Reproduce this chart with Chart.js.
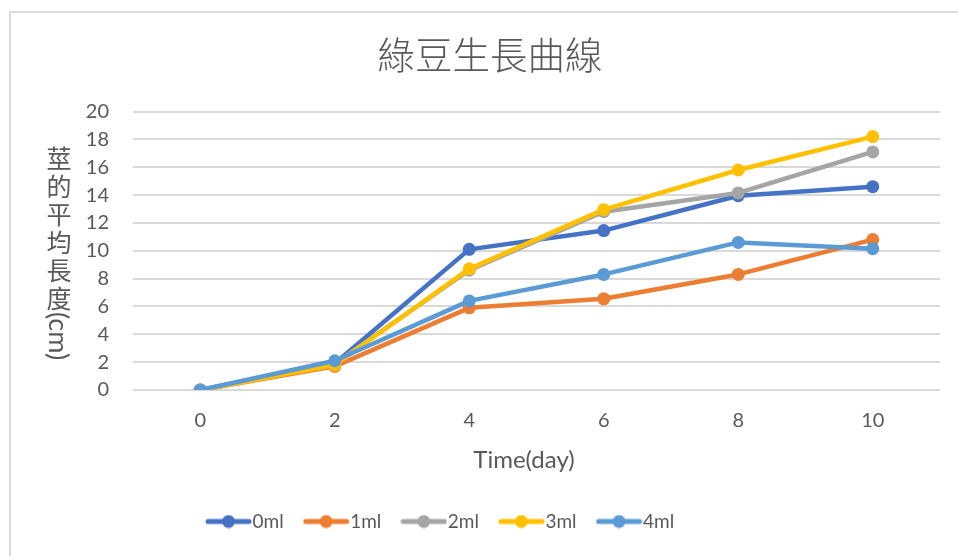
<!DOCTYPE html>
<html>
<head>
<meta charset="utf-8">
<title>綠豆生長曲線</title>
<script src="https://cdn.jsdelivr.net/npm/chart.js@4/dist/chart.umd.min.js"></script>
<style>
  html, body { margin: 0; padding: 0; background: #ffffff; }
  canvas { display: block; }
</style>
</head>
<body>
<canvas id="growth" width="958" height="556"></canvas>
<script>
// Measurement days (x categories)
const days = ['0', '2', '4', '6', '8', '10'];

// Average stem length (cm) per watering amount
const seriesNames = ['0ml', '1ml', '2ml', '3ml', '4ml'];
const stem0ml = [0, 1.9, 10.1, 11.45, 13.95, 14.6];
const stem1ml = [0, 1.7, 5.9, 6.55, 8.3, 10.8];
const stem2ml = [0, 1.9, 8.6, 12.8, 14.15, 17.1];
const stem3ml = [0, 1.8, 8.7, 12.95, 15.8, 18.2];
const stem4ml = [0, 2.1, 6.4, 8.3, 10.6, 10.15];
const seriesValues = [stem0ml, stem1ml, stem2ml, stem3ml, stem4ml];
const seriesColors = ['#4472C4', '#ED7D31', '#A5A5A5', '#FFC000', '#5B9BD5'];

// Value axis range
const yMin = 0;
const yMax = 20;
const yStep = 2;

// Texts
const chartTitle = '綠豆生長曲線';
const yTitleChars = ['莖', '的', '平', '均', '長', '度'];
const yTitleUnit = '(cm)';
const xTitle = 'Time(day)';

const textGray = '#595959';
const latin = "Lato, 'Noto Sans', 'Noto Sans CJK TC', sans-serif";
const cjk = "'Noto Sans CJK TC', 'Noto Sans', sans-serif";

Chart.defaults.font.family = latin;
Chart.defaults.color = textGray;

// Legend swatch: short thick line with a dot in the middle
function makeSwatch(color) {
  const c = document.createElement('canvas');
  c.width = 47; c.height = 14;
  const g = c.getContext('2d');
  g.strokeStyle = color;
  g.lineWidth = 5;
  g.lineCap = 'round';
  g.beginPath(); g.moveTo(3, 7); g.lineTo(44, 7); g.stroke();
  g.fillStyle = color;
  g.beginPath(); g.arc(23.5, 7, 6.5, 0, Math.PI * 2); g.fill();
  return c;
}
const swatches = seriesColors.map(makeSwatch);

const datasets = seriesNames.map((name, i) => ({
  label: name,
  data: seriesValues[i],
  borderColor: seriesColors[i],
  backgroundColor: seriesColors[i],
  pointBackgroundColor: seriesColors[i],
  pointBorderColor: seriesColors[i],
  borderWidth: 4.5,
  pointRadius: 6.5,
  pointBorderWidth: 0,
  pointHoverRadius: 6.5,
  borderJoinStyle: 'round',
  borderCapStyle: 'round',
  tension: 0,
  fill: false,
  order: seriesNames.length - i   // later series drawn on top
}));

// Frame, vertical axis title (upright CJK characters) and horizontal axis title
const decorations = {
  id: 'decorations',
  beforeDraw(chart) {
    const ctx = chart.ctx;
    ctx.save();
    ctx.fillStyle = '#ffffff';
    ctx.fillRect(0, 0, chart.width, chart.height);
    ctx.strokeStyle = '#d9d9d9';
    ctx.lineWidth = 2;
    ctx.strokeRect(10, 12, chart.width + 20, chart.height + 20);
    ctx.restore();
  },
  afterLayout(chart) {
    // place the title centre and the legend row start
    const t = chart.titleBlock;
    if (t) {
      const dt = 490 - (t.left + t.right) / 2;
      t.left += dt; t.right += dt;
    }
    const lg = chart.legend;
    if (lg && lg.lineWidths) {
      const pad = lg.options.labels.padding;
      const cur = (lg.left + pad + lg.right - lg.lineWidths[0]) / 2;
      const d = 214 - cur;
      lg.left += d; lg.right += d;
    }
  },
  afterDraw(chart) {
    const ctx = chart.ctx;
    ctx.save();
    ctx.fillStyle = textGray;
    ctx.textAlign = 'center';
    ctx.textBaseline = 'middle';
    ctx.font = '25px ' + cjk;
    const x = 59;
    yTitleChars.forEach((ch, i) => ctx.fillText(ch, x, 158 + 28 * i));
    ctx.save();
    ctx.translate(x - 1, 336);
    ctx.rotate(Math.PI / 2);
    ctx.font = '27px ' + latin;
    ctx.fillText(yTitleUnit, 0, 0);
    ctx.restore();
    ctx.font = '24px ' + latin;
    ctx.fillText(xTitle, 524, 460);
    ctx.restore();
  }
};

new Chart(document.getElementById('growth'), {
  type: 'line',
  data: { labels: days, datasets },
  options: {
    responsive: false,
    animation: false,
    devicePixelRatio: 1,
    layout: { padding: { left: 0, right: 18, top: 0, bottom: 15 } },
    plugins: {
      title: {
        display: true,
        text: chartTitle,
        color: textGray,
        font: { family: cjk, size: 37.5, weight: '300', lineHeight: 1.2 },
        padding: { top: 32.5, bottom: 34 }
      },
      legend: {
        position: 'bottom',
        labels: {
          usePointStyle: true,
          pointStyleWidth: 29,
          boxHeight: 14,
          padding: 28,
          color: textGray,
          font: { family: latin, size: 19 },
          generateLabels(chart) {
            return chart.data.datasets.map((ds, i) => ({
              text: ds.label,
              fontColor: textGray,
              fillStyle: ds.borderColor,
              strokeStyle: ds.borderColor,
              lineWidth: 0,
              pointStyle: swatches[i],
              hidden: !chart.isDatasetVisible(i),
              datasetIndex: i
            }));
          }
        }
      },
      tooltip: { enabled: false }
    },
    scales: {
      x: {
        type: 'category',
        offset: true,
        grid: { display: false, drawTicks: false },
        border: { display: false },
        ticks: { color: textGray, font: { size: 20 }, padding: 19, maxRotation: 0 },
        afterFit(scale) { scale.height = 94; }
      },
      y: {
        min: yMin,
        max: yMax,
        grid: { color: '#d9d9d9', lineWidth: 2, drawTicks: false },
        border: { display: false },
        ticks: { stepSize: yStep, color: textGray, font: { size: 20 }, padding: 24 },
        afterFit(scale) { scale.width = 133; }
      }
    }
  },
  plugins: [decorations]
});
</script>
</body>
</html>
